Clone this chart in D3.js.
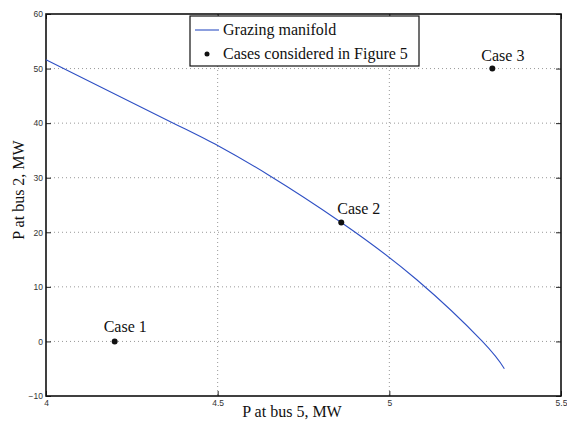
<!DOCTYPE html>
<html>
<head>
<script src="https://d3js.org/d3.v7.min.js"></script>
<style>
body { margin: 0; background: white; }
.tick-label { font-family: "Liberation Sans", Arial, sans-serif; font-size: 8.5px; fill: #333; }
.serif { font-family: "Liberation Serif", "Times New Roman", serif; font-size: 16px; fill: #111; }
</style>
</head>
<body>
<script>
// grazing manifold
var manifoldP5 = [4.0, 4.371, 4.5, 4.648, 4.86, 5.08, 5.271, 5.335];
var manifoldP2 = [51.6, 40, 35.9, 30.5, 21.8, 11.3, 0, -5];

// cases from Figure 5
var caseNames = ["Case 1", "Case 2", "Case 3"];
var caseP5 = [4.2, 4.86, 5.3];
var caseP2 = [0, 21.8, 50];

var xTicks = [4, 4.5, 5, 5.5];
var yTicks = [-10, 0, 10, 20, 30, 40, 50, 60];
var legendLabels = ["Grazing manifold", "Cases considered in Figure 5"];

var W = 567, H = 422;
// plot box (don't use "top", it's window.top)
var mLeft = 46, mRight = 561, mTop = 14, mBottom = 396;

var svg = d3.select("body").append("svg")
  .attr("width", W)
  .attr("height", H);

var x = d3.scaleLinear().domain([4, 5.5]).range([mLeft, mRight]);
var y = d3.scaleLinear().domain([-10, 60]).range([mBottom, mTop]);

// grid
svg.append("g").selectAll("line")
  .data(xTicks.slice(1, -1))
  .enter().append("line")
  .attr("x1", d => x(d)).attr("x2", d => x(d))
  .attr("y1", mTop).attr("y2", mBottom)
  .attr("stroke", "#999").attr("stroke-dasharray", "1,3");

svg.append("g").selectAll("line")
  .data(yTicks.slice(1, -1))
  .enter().append("line")
  .attr("x1", mLeft).attr("x2", mRight)
  .attr("y1", d => y(d)).attr("y2", d => y(d))
  .attr("stroke", "#999").attr("stroke-dasharray", "1,3");

// axes, ticks inward like matlab
var fmt = d => d < 0 ? "\u2212" + Math.abs(d) : String(d);

svg.append("g")
  .attr("transform", "translate(0," + mBottom + ")")
  .call(d3.axisBottom(x).tickValues(xTicks).tickSize(-5).tickPadding(4).tickFormat(fmt))
  .call(g => g.select(".domain").remove());
svg.append("g")
  .attr("transform", "translate(0," + mTop + ")")
  .call(d3.axisTop(x).tickValues(xTicks).tickSize(-5).tickFormat(""))
  .call(g => g.select(".domain").remove());
svg.append("g")
  .attr("transform", "translate(" + mLeft + ",0)")
  .call(d3.axisLeft(y).tickValues(yTicks).tickSize(-5).tickPadding(3).tickFormat(fmt))
  .call(g => g.select(".domain").remove());
svg.append("g")
  .attr("transform", "translate(" + mRight + ",0)")
  .call(d3.axisRight(y).tickValues(yTicks).tickSize(-5).tickFormat(""))
  .call(g => g.select(".domain").remove());

svg.selectAll(".tick line").attr("stroke", "#222");
svg.selectAll(".tick text")
  .attr("class", "tick-label");

svg.append("rect")
  .attr("x", mLeft).attr("y", mTop)
  .attr("width", mRight - mLeft).attr("height", mBottom - mTop)
  .attr("fill", "none").attr("stroke", "#111").attr("stroke-width", 1.6);

// manifold curve
var line = d3.line()
  .x(d => x(d[0]))
  .y(d => y(d[1]))
  .curve(d3.curveNatural);

svg.append("path")
  .datum(d3.zip(manifoldP5, manifoldP2))
  .attr("d", line)
  .attr("fill", "none")
  .attr("stroke", "#2f50c4")
  .attr("stroke-width", 1.1);

// case points
var cases = caseNames.map((n, i) => ({name: n, p5: caseP5[i], p2: caseP2[i]}));
var labelDx = [-11, -4, -11], labelDy = [-9, -8, -8];

svg.selectAll(".case")
  .data(cases)
  .enter().append("circle")
  .attr("cx", d => x(d.p5))
  .attr("cy", d => y(d.p2))
  .attr("r", 3)
  .attr("fill", "#111");

svg.selectAll(".case-label")
  .data(cases)
  .enter().append("text")
  .attr("class", "serif")
  .attr("x", (d, i) => x(d.p5) + labelDx[i])
  .attr("y", (d, i) => y(d.p2) + labelDy[i])
  .text(d => d.name);

// axis titles
svg.append("text")
  .attr("class", "serif")
  .attr("x", 292)
  .attr("y", 417)
  .attr("text-anchor", "middle")
  .text("P at bus 5, MW");

svg.append("text")
  .attr("class", "serif")
  .attr("transform", "translate(24,190) rotate(-90)")
  .attr("text-anchor", "middle")
  .text("P at bus 2, MW");

// legend
var lg = svg.append("g").attr("transform", "translate(190,16)");
lg.append("rect")
  .attr("width", 229).attr("height", 50)
  .attr("fill", "white").attr("stroke", "#111").attr("stroke-width", 1.2);
lg.append("line")
  .attr("x1", 5).attr("x2", 29).attr("y1", 14).attr("y2", 14)
  .attr("stroke", "#2f50c4").attr("stroke-width", 1.1);
lg.append("circle")
  .attr("cx", 17).attr("cy", 38).attr("r", 2.5).attr("fill", "#111");
lg.selectAll(".lg-text")
  .data(legendLabels)
  .enter().append("text")
  .attr("class", "serif")
  .attr("x", 33)
  .attr("y", (d, i) => 19 + i * 24)
  .text(d => d);
</script>
</body>
</html>
